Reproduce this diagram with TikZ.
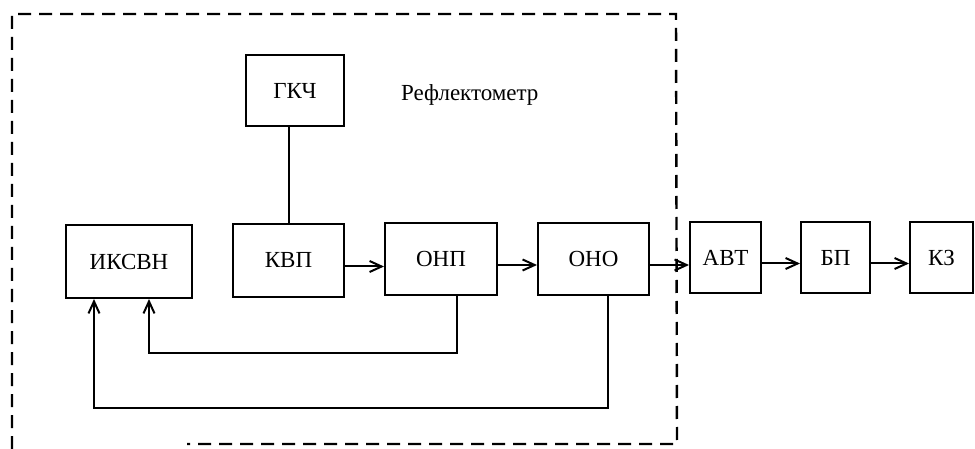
\documentclass[tikz,border=0pt]{standalone}
\usepackage{fontspec}
\setmainfont{Liberation Serif}
\usetikzlibrary{arrows.meta}
\begin{document}
\begin{tikzpicture}[x=1pt,y=-1pt,
  blk/.style={draw, line width=2pt, inner sep=0pt, font=\fontsize{23}{26}\selectfont},
  conn/.style={line width=2pt},
  arr/.style={line width=2pt, -{Straight Barb[length=12pt,width=11pt,line width=2pt]}},
  frame/.style={line width=2.4pt, dash pattern=on 13pt off 8pt}]
\useasboundingbox (0,0) rectangle (975,449);
\node[blk, minimum width=98pt, minimum height=71pt] (gkch) at (295,90.5) {ГКЧ};
\node[blk, minimum width=111pt, minimum height=73pt] (kvp) at (288.5,260.5) {КВП};
\node[blk, minimum width=126pt, minimum height=73pt] (iksvn) at (129,261.5) {ИКСВН};
\node[blk, minimum width=112pt, minimum height=72pt] (onp) at (441,259) {ОНП};
\node[blk, minimum width=111pt, minimum height=72pt] (ono) at (593.5,259) {ОНО};
\node[blk, minimum width=71pt, minimum height=71pt] (avt) at (725.5,257.5) {АВТ};
\node[blk, minimum width=69pt, minimum height=71pt] (bp) at (835.5,257.5) {БП};
\node[blk, minimum width=63pt, minimum height=71pt] (kz) at (941.5,257.5) {КЗ};
\node[anchor=west, inner sep=0pt, font=\fontsize{23}{26}\selectfont] (refl) at (401,95) {Рефлектометр};
% frame
\coordinate (f1) at (12,449);
\coordinate (f2) at (12,14);
\coordinate (f3) at (676,14);
\coordinate (f4) at (677,444);
\coordinate (f5) at (187,444);
\draw[frame] (f1) -- (f2) -- (f3) -- (f4) -- (f5);
% connections
\draw[conn] (kvp.north) -- (kvp.north |- gkch.south);
\draw[arr] ([yshift=-6pt]kvp.east) -- ([yshift=-6pt]kvp.east -| onp.west);
\draw[arr] ([yshift=-6pt]onp.east) -- ([yshift=-6pt]onp.east -| ono.west);
\draw[arr] ([yshift=-6pt]ono.east) -- ([yshift=-6pt]ono.east -| avt.west);
\draw[arr] ([yshift=-6pt]avt.east) -- ([yshift=-6pt]avt.east -| bp.west);
\draw[arr] ([yshift=-6pt]bp.east) -- ([yshift=-6pt]bp.east -| kz.west);
\draw[arr] ([xshift=16pt]onp.south) -- ++(0,57) -| ([xshift=20pt]iksvn.south);
\draw[arr] ([xshift=14.5pt]ono.south) -- ++(0,112) -| ([xshift=-35pt]iksvn.south);
\end{tikzpicture}
\end{document}
